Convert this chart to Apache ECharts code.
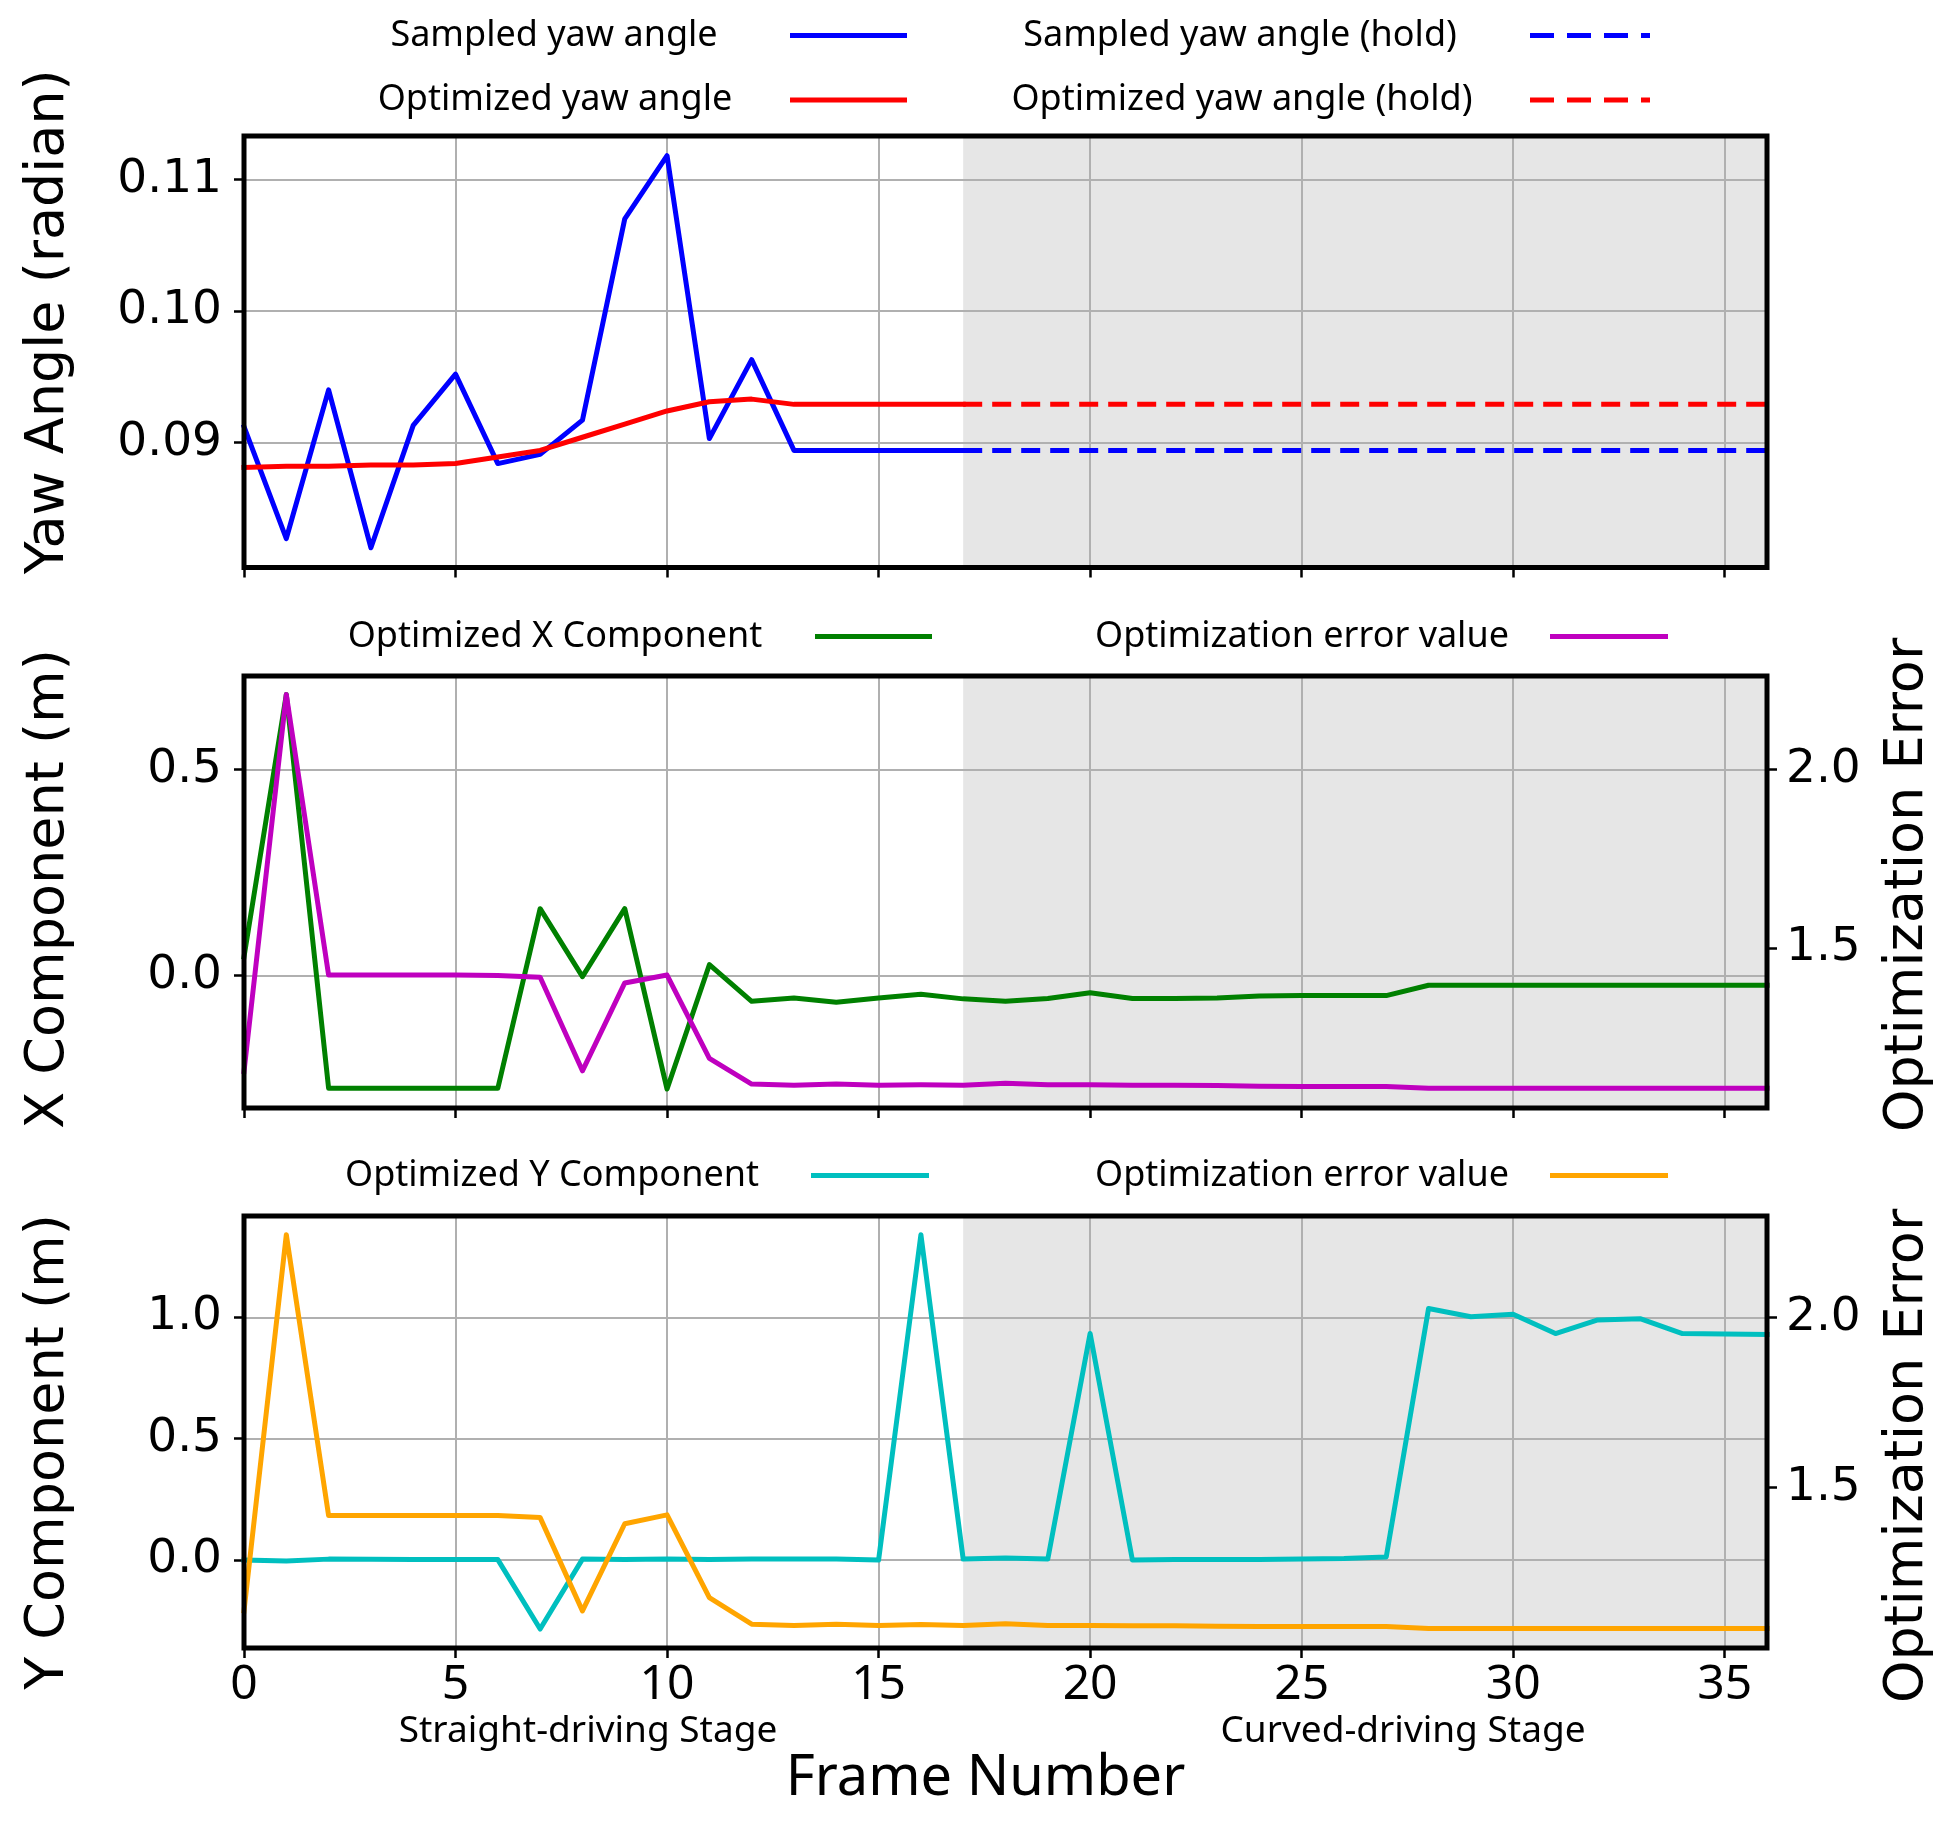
<!DOCTYPE html>
<html>
<head>
<meta charset="utf-8">
<title>Yaw angle / optimized components</title>
<script src="https://cdn.jsdelivr.net/npm/echarts@6/dist/echarts.min.js"></script>
<style>
  html, body { margin: 0; padding: 0; background: #fff; }
  #chart { width: 1956px; height: 1830px; }
</style>
</head>
<body>
<div id="chart"></div>
<script>
// ---- data ----
var frames = [0, 1, 2, 3, 4, 5, 6, 7, 8, 9, 10, 11, 12, 13, 14, 15, 16, 17, 18,
              19, 20, 21, 22, 23, 24, 25, 26, 27, 28, 29, 30, 31, 32, 33, 34, 35, 36];
var xTickValues = [0, 5, 10, 15, 20, 25, 30, 35];

// yaw angle, frames 0..17 (straight-driving stage), then held to the end
var sampledYaw = [0.0912, 0.0827, 0.0940, 0.0820, 0.0913, 0.0952, 0.0884, 0.0891, 0.0917,
                  0.1070, 0.1118, 0.0903, 0.0963, 0.0894, 0.0894, 0.0894, 0.0894, 0.0894];
var optimizedYaw = [0.0881, 0.0882, 0.0882, 0.0883, 0.0883, 0.0884, 0.0889, 0.0894, 0.0904,
                    0.0914, 0.0924, 0.0931, 0.0933, 0.0929, 0.0929, 0.0929, 0.0929, 0.0929];
var holdFrames = [17, 36];
var yawTicks = [0.09, 0.10, 0.11];

// X component and its optimization error
var xComponent = [0.045, 0.682, -0.274, -0.274, -0.274, -0.274, -0.274, 0.162, -0.003, 0.162,
                  -0.276, 0.026, -0.063, -0.055, -0.065, -0.055, -0.046, -0.057, -0.063, -0.056,
                  -0.042, -0.056, -0.056, -0.055, -0.050, -0.049, -0.049, -0.049, -0.024, -0.024,
                  -0.024, -0.024, -0.024, -0.024, -0.024, -0.024, -0.024];
var xError = [1.155, 2.210, 1.425, 1.425, 1.425, 1.425, 1.424, 1.419, 1.157, 1.403,
              1.425, 1.192, 1.120, 1.117, 1.120, 1.117, 1.118, 1.117, 1.122, 1.118,
              1.118, 1.117, 1.117, 1.116, 1.114, 1.113, 1.113, 1.113, 1.108, 1.108,
              1.108, 1.108, 1.108, 1.108, 1.108, 1.108, 1.108];

// Y component and its optimization error
var yComponent = [0.000, -0.004, 0.004, 0.003, 0.002, 0.002, 0.002, -0.284, 0.004, 0.002,
                  0.004, 0.002, 0.004, 0.004, 0.004, 0.000, 1.340, 0.004, 0.009, 0.004,
                  0.933, 0.000, 0.002, 0.002, 0.002, 0.005, 0.007, 0.013, 1.036, 1.002,
                  1.012, 0.933, 0.989, 0.994, 0.933, 0.931, 0.929];
var yError = [1.138, 2.243, 1.418, 1.418, 1.418, 1.418, 1.418, 1.412, 1.138, 1.394,
              1.420, 1.177, 1.099, 1.095, 1.099, 1.095, 1.098, 1.095, 1.100, 1.095,
              1.095, 1.094, 1.094, 1.093, 1.092, 1.092, 1.092, 1.092, 1.086, 1.086,
              1.086, 1.086, 1.086, 1.086, 1.086, 1.086, 1.086];

var compTicks = [0.0, 0.5];
var compTicksY = [0.0, 0.5, 1.0];
var errorTicks = [1.5, 2.0];

// curved-driving stage shading
var shadeStart = 17, shadeEnd = 36;

// legend labels (bottom error series has its own internal name)
var legendLabels = {
    'Optimization error value (Y)': 'Optimization error value'
};

// ---- styling ----
var TICK_FONT = 'DejaVu Sans';
var TEXT_FONT = 'Noto Sans';
var GRID_COLOR = '#b0b0b0';
var LINE_W = 5;
var DASH_ICON = 'path://M0,0H24V5H0Z M37,0H61V5H37Z M74,0H98V5H74Z M111,0H120V5H111Z';

function pairs(xs, ys) {
    return ys.map(function (v, i) { return [xs[i], v]; });
}

function holdLine(values) {
    var last = values[values.length - 1];
    return holdFrames.map(function (f) { return [f, last]; });
}

function legendAt(name, textCenter, iconLeft, iconWidth, rowY, dashed) {
    var textRight = iconLeft - 5;
    var w = 2 * (textRight - textCenter);
    return {
        data: [name],
        left: 2 * textCenter - textRight,
        top: rowY - 20,
        padding: 0,
        orient: 'horizontal',
        align: 'right',
        selectedMode: false,
        icon: dashed ? DASH_ICON : 'rect',
        itemWidth: iconWidth,
        itemHeight: 5,
        itemStyle: {borderWidth: 0},
        formatter: function (n) {
            return '{t|' + (legendLabels[n] || n) + '}';
        },
        textStyle: {
            color: '#000', fontFamily: TEXT_FONT, fontSize: 36,
            rich: {t: {width: w, align: 'center', color: '#000',
                       fontFamily: TEXT_FONT, fontSize: 36, lineHeight: 40}}
        }
    };
}

function xAxisAt(gridIndex, withLabels) {
    return {
        gridIndex: gridIndex, type: 'value', min: 0, max: 36, interval: 5,
        axisLine: {show: false, onZero: false},
        axisTick: {show: true, length: 10, customValues: xTickValues,
                   lineStyle: {color: '#000', width: 2.5}},
        axisLabel: {show: withLabels, customValues: xTickValues, margin: 13,
                    color: '#000', fontFamily: TEXT_FONT, fontSize: 48, lineHeight: 48},
        splitLine: {show: true, lineStyle: {color: GRID_COLOR, width: 2}},
        name: withLabels ? 'Frame Number' : '',
        nameLocation: 'middle',
        nameGap: 103,
        nameTextStyle: {color: '#000', fontFamily: TEXT_FONT, fontSize: 56, lineHeight: 56,
                        padding: [0, 40, 0, 0]}
    };
}

// shift > 0 moves the rotated title up the page
function yAxisAt(gridIndex, side, range, step, ticks, digits, name, nameGap, shift) {
    return {
        gridIndex: gridIndex, type: 'value', position: side,
        min: range[0], max: range[1], minInterval: step, maxInterval: step,
        axisLine: {show: false},
        axisTick: {show: true, length: 10, customValues: ticks,
                   lineStyle: {color: '#000', width: 2.5}},
        axisLabel: {customValues: ticks, margin: side === 'left' ? 22 : 19,
                    color: '#000', fontFamily: TICK_FONT, fontSize: 47,
                    formatter: function (v) { return v.toFixed(digits); }},
        splitLine: {show: side === 'left', lineStyle: {color: GRID_COLOR, width: 2}},
        name: name,
        nameLocation: 'middle',
        nameGap: nameGap,
        nameTextStyle: {color: '#000', fontFamily: TICK_FONT, fontSize: 54, lineHeight: 54,
                        padding: [0, shift < 0 ? -2 * shift : 0, 0, shift > 0 ? 2 * shift : 0]}
    };
}

function lineSeries(name, xi, yi, data, color, dashed, extra) {
    var s = {
        name: name, type: 'line', xAxisIndex: xi, yAxisIndex: yi,
        data: data, symbol: 'none', color: color,
        itemStyle: {color: color},
        lineStyle: {color: color, width: LINE_W, type: dashed ? [19, 10] : 'solid',
                    cap: dashed ? 'butt' : 'square', join: 'round'},
        emphasis: {disabled: true},
        animation: false
    };
    if (extra) s.markArea = extra;
    return s;
}

var shade = {
    silent: true, z: -1,
    label: {show: false},
    itemStyle: {color: '#e6e6e6'},
    data: [[{xAxis: shadeStart}, {xAxis: shadeEnd}]]
};

var gridBase = {show: true, left: 244, width: 1523, borderColor: '#000', borderWidth: 5,
                backgroundColor: 'transparent', z: 10};

var chart = echarts.init(document.getElementById('chart'), null, {renderer: 'canvas'});

chart.setOption({
    backgroundColor: '#fff',
    animation: false,
    grid: [
        Object.assign({}, gridBase, {top: 136, height: 431.5}),
        Object.assign({}, gridBase, {top: 676, height: 432}),
        Object.assign({}, gridBase, {top: 1216, height: 432})
    ],
    legend: [
        legendAt('Sampled yaw angle', 554, 790, 117, 37.5, false),
        legendAt('Optimized yaw angle', 555, 790, 117, 102, false),
        legendAt('Sampled yaw angle (hold)', 1240, 1530, 120, 37.5, true),
        legendAt('Optimized yaw angle (hold)', 1242, 1530, 120, 102, true),
        legendAt('Optimized X Component', 555, 815, 117, 638.6, false),
        legendAt('Optimization error value', 1302, 1550, 118, 638.6, false),
        legendAt('Optimized Y Component', 552, 811, 118, 1177.4, false),
        legendAt('Optimization error value (Y)', 1302, 1550, 118, 1177.4, false)
    ],
    xAxis: [xAxisAt(0, false), xAxisAt(1, false), xAxisAt(2, true)],
    yAxis: [
        yAxisAt(0, 'left', [0.0805, 0.1133], 0.01, yawTicks, 2, 'Yaw Angle (radian)', 168, 30),
        yAxisAt(1, 'left', [-0.322, 0.727], 0.5, compTicks, 1, 'X Component (m)', 168, 3),
        yAxisAt(1, 'right', [1.053, 2.262], 0.5, errorTicks, 1, 'Optimization Error', 114, 7),
        yAxisAt(2, 'left', [-0.362, 1.417], 0.5, compTicksY, 1, 'Y Component (m)', 168, -20),
        yAxisAt(2, 'right', [1.029, 2.298], 0.5, errorTicks, 1, 'Optimization Error', 114, -24)
    ],
    series: [
        lineSeries('Sampled yaw angle', 0, 0, pairs(frames, sampledYaw), '#0000ff', false, shade),
        lineSeries('Optimized yaw angle', 0, 0, pairs(frames, optimizedYaw), '#ff0000', false),
        lineSeries('Sampled yaw angle (hold)', 0, 0, holdLine(sampledYaw), '#0000ff', true),
        lineSeries('Optimized yaw angle (hold)', 0, 0, holdLine(optimizedYaw), '#ff0000', true),

        lineSeries('Optimized X Component', 1, 1, pairs(frames, xComponent), '#008000', false, shade),
        lineSeries('Optimization error value', 1, 2, pairs(frames, xError), '#bf00bf', false),

        lineSeries('Optimized Y Component', 2, 3, pairs(frames, yComponent), '#00bfbf', false, shade),
        lineSeries('Optimization error value (Y)', 2, 4, pairs(frames, yError), '#ffa500', false)
    ],
    graphic: [
        {type: 'text', x: 588, y: 1731, silent: true,
         style: {text: 'Straight-driving Stage', fill: '#000', font: '37px "Noto Sans"',
                 textAlign: 'center', textVerticalAlign: 'middle'}},
        {type: 'text', x: 1403, y: 1731, silent: true,
         style: {text: 'Curved-driving Stage', fill: '#000', font: '37px "Noto Sans"',
                 textAlign: 'center', textVerticalAlign: 'middle'}}
    ]
});
</script>
</body>
</html>
